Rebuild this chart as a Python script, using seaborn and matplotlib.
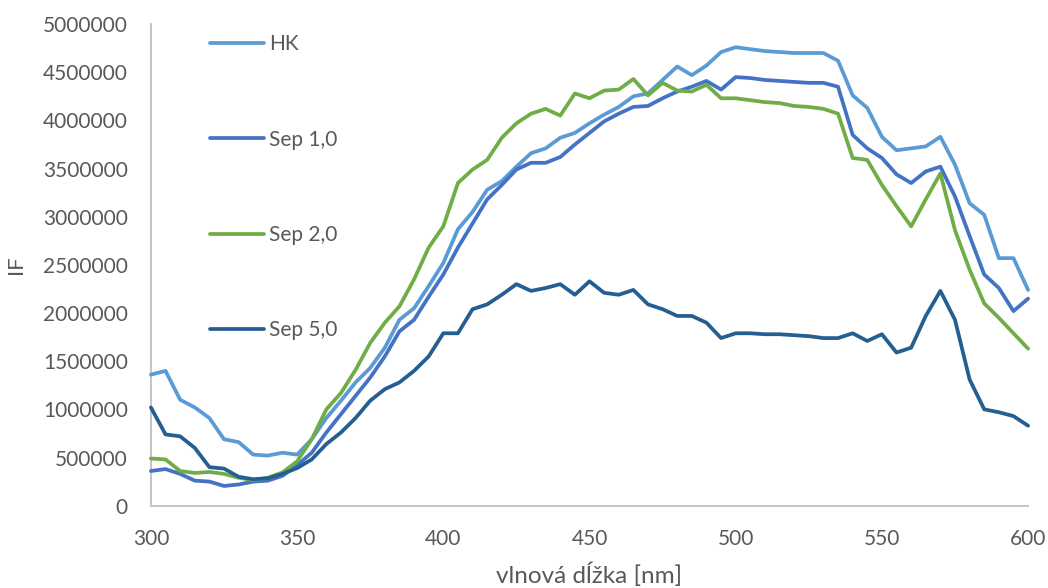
import numpy as np
import pandas as pd
import matplotlib
matplotlib.use("Agg")
import matplotlib.pyplot as plt
from matplotlib.ticker import MultipleLocator, ScalarFormatter
import seaborn as sns

# wavelength grid [nm]
wavelength = list(range(300, 601, 5))

# intensities in millions
hk = [1.36, 1.40, 1.10, 1.02, 0.91, 0.69, 0.66, 0.53, 0.52, 0.55,
      0.53, 0.69, 0.91, 1.09, 1.28, 1.43, 1.64, 1.93, 2.05, 2.28,
      2.52, 2.87, 3.05, 3.28, 3.37, 3.52, 3.66, 3.71, 3.82, 3.87,
      3.97, 4.06, 4.14, 4.25, 4.28, 4.42, 4.56, 4.47, 4.57, 4.71,
      4.76, 4.74, 4.72, 4.71, 4.70, 4.70, 4.70, 4.62, 4.26, 4.13,
      3.83, 3.69, 3.71, 3.73, 3.83, 3.54, 3.14, 3.02, 2.57, 2.57,
      2.24]
sep1 = [0.36, 0.38, 0.33, 0.26, 0.25, 0.205, 0.22, 0.25, 0.26, 0.31,
        0.42, 0.55, 0.76, 0.95, 1.14, 1.33, 1.55, 1.81, 1.93, 2.17,
        2.40, 2.68, 2.93, 3.18, 3.33, 3.49, 3.56, 3.56, 3.62, 3.75,
        3.87, 3.99, 4.07, 4.14, 4.15, 4.23, 4.30, 4.35, 4.41, 4.32,
        4.45, 4.44, 4.42, 4.41, 4.40, 4.39, 4.39, 4.35, 3.85, 3.71,
        3.61, 3.44, 3.35, 3.47, 3.52, 3.21, 2.80, 2.40, 2.26, 2.02,
        2.15]
sep2 = [0.49, 0.48, 0.36, 0.34, 0.35, 0.33, 0.29, 0.265, 0.29, 0.345,
        0.46, 0.69, 1.00, 1.17, 1.41, 1.69, 1.90, 2.07, 2.35, 2.68,
        2.90, 3.35, 3.49, 3.59, 3.82, 3.97, 4.07, 4.12, 4.05, 4.28,
        4.23, 4.31, 4.32, 4.43, 4.26, 4.39, 4.31, 4.30, 4.37, 4.23,
        4.23, 4.21, 4.19, 4.18, 4.15, 4.14, 4.12, 4.07, 3.61, 3.59,
        3.33, 3.11, 2.90, 3.18, 3.45, 2.86, 2.45, 2.10, 1.95, 1.79,
        1.63]
sep5 = [1.02, 0.74, 0.72, 0.60, 0.40, 0.385, 0.30, 0.275, 0.285, 0.33,
        0.39, 0.48, 0.64, 0.76, 0.91, 1.09, 1.21, 1.28, 1.40, 1.55,
        1.79, 1.79, 2.04, 2.09, 2.19, 2.30, 2.23, 2.26, 2.30, 2.19,
        2.33, 2.21, 2.19, 2.24, 2.09, 2.04, 1.97, 1.97, 1.90, 1.74,
        1.79, 1.79, 1.78, 1.78, 1.77, 1.76, 1.74, 1.74, 1.79, 1.71,
        1.78, 1.59, 1.64, 1.97, 2.23, 1.93, 1.31, 1.00, 0.97, 0.93,
        0.83]

labels = ["HK", "Sep 1,0", "Sep 2,0", "Sep 5,0"]
colors = ["#5B9BD5", "#4472C4", "#70AD47", "#255E91"]

frames = []
for name, vals in zip(labels, [hk, sep1, sep2, sep5]):
    frames.append(pd.DataFrame({"nm": wavelength,
                                "IF": np.array(vals) * 1e6,
                                "series": name}))
df = pd.concat(frames, ignore_index=True)

sns.set_style("white")
plt.rcParams["font.family"] = ["Lato", "DejaVu Sans"]

grey = "#BFBFBF"
txt = "#595959"

fig = plt.figure(figsize=(10.48, 5.88), dpi=100)
ax = fig.add_axes([0.144, 0.140, 0.837, 0.819])

sns.lineplot(data=df, x="nm", y="IF", hue="series", hue_order=labels,
             palette=colors, linewidth=2.7, ax=ax, clip_on=False,
             solid_joinstyle="round", solid_capstyle="round")

ax.set_xlim(300, 600)
ax.set_ylim(0, 5000000)
ax.xaxis.set_major_locator(MultipleLocator(50))
ax.xaxis.set_minor_locator(MultipleLocator(5))
ax.yaxis.set_major_locator(MultipleLocator(500000))
ax.yaxis.set_minor_locator(MultipleLocator(100000))
fmt = ScalarFormatter(useOffset=False)
fmt.set_scientific(False)
ax.yaxis.set_major_formatter(fmt)

for side in ["top", "right"]:
    ax.spines[side].set_visible(False)
for side in ["left", "bottom"]:
    ax.spines[side].set_color(grey)
    ax.spines[side].set_linewidth(1.3)
    ax.spines[side].set_zorder(0.5)

ax.tick_params(axis="both", which="both", direction="inout", color=grey,
               width=1.3, labelcolor=txt, labelsize=15)
ax.tick_params(axis="x", which="major", length=11, pad=11)
ax.tick_params(axis="x", which="minor", length=8)
ax.tick_params(axis="y", which="both", length=8.5, pad=12.5)

ax.set_xlabel("vlnová dĺžka [nm]", fontsize=17.5, color=txt, labelpad=10)
ax.set_ylabel("IF", fontsize=16, color=txt, labelpad=12)

leg = ax.legend(loc="upper left", bbox_to_anchor=(0.067, 0.979),
                frameon=False, fontsize=15, labelspacing=3.62,
                handlelength=2.6, handletextpad=0.25,
                borderpad=0, borderaxespad=0)
for t in leg.get_texts():
    t.set_color(txt)

fig.savefig("out.png", dpi=100)
